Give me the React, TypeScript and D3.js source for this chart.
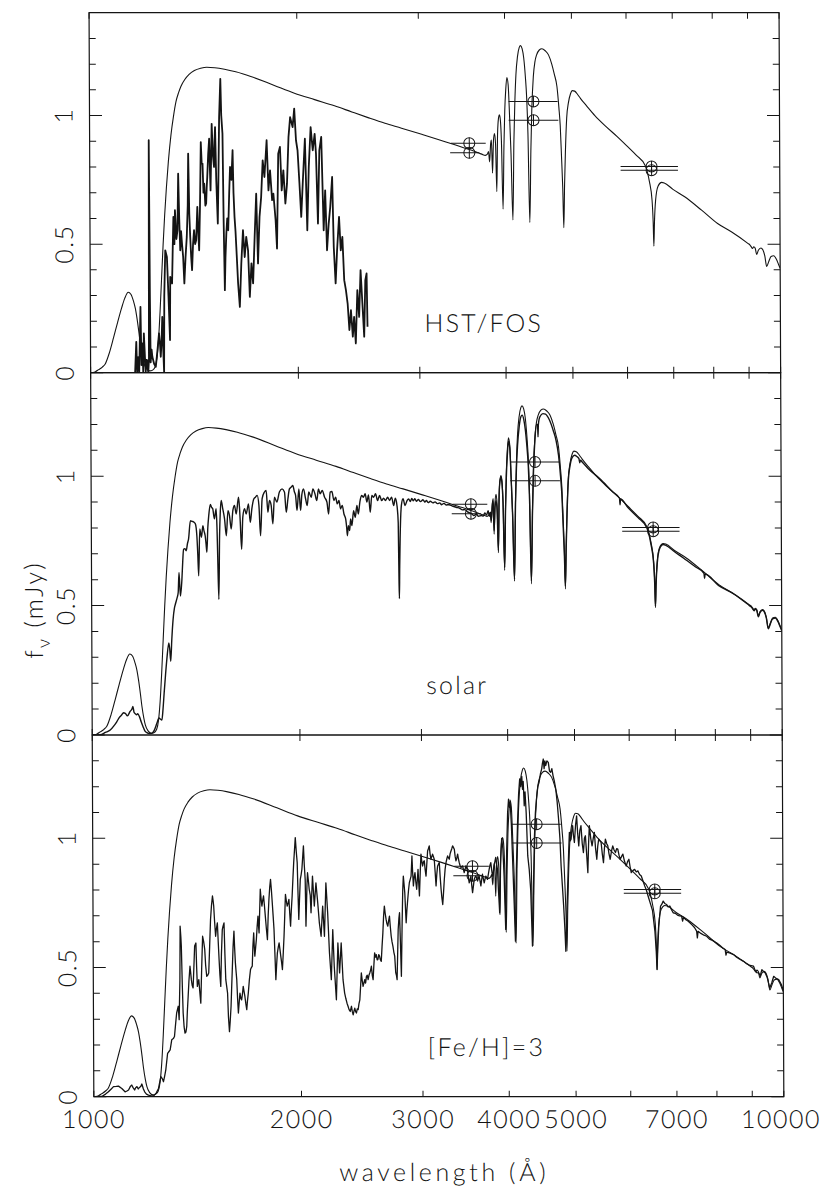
import React from "react";
import * as d3 from "d3";

type Pt = [number, number];

// Pure-hydrogen model atmosphere: [wavelength (Å), f_nu (mJy)]
const modelSpectrum: Pt[] = [
  [1000, 0], [1008, 0.001], [1016, 0.004], [1027, 0.012], [1040, 0.022], [1050, 0.034], [1065, 0.078],
  [1080, 0.136], [1095, 0.196], [1110, 0.252], [1122, 0.29], [1135, 0.313], [1145, 0.305], [1155, 0.278],
  [1162, 0.25], [1168, 0.213], [1175, 0.16], [1181, 0.11], [1188, 0.066], [1194, 0.039], [1205, 0.016],
  [1218, 0.007], [1230, 0.01], [1240, 0.022], [1248, 0.058], [1255, 0.13], [1262, 0.24], [1269, 0.37],
  [1276, 0.498], [1283, 0.61], [1291, 0.718], [1300, 0.82], [1312, 0.925], [1323, 0.995], [1335, 1.055],
  [1347, 1.09], [1357, 1.113], [1375, 1.14], [1395, 1.16], [1420, 1.175], [1450, 1.184], [1480, 1.188],
  [1520, 1.186], [1570, 1.18], [1630, 1.17], [1714, 1.152], [1850, 1.118], [1982, 1.087], [2120, 1.062],
  [2265, 1.038], [2400, 1.014], [2533, 0.992], [2680, 0.97], [2832, 0.951], [3029, 0.927], [3200, 0.907],
  [3347, 0.89], [3450, 0.879], [3540, 0.869], [3600, 0.862], [3653, 0.855], [3700, 0.85], [3745, 0.845],
  [3770, 0.85], [3785, 0.86], [3798, 0.82], [3812, 0.89], [3822, 0.905], [3835, 0.776], [3848, 0.9],
  [3862, 0.93], [3875, 0.89], [3889, 0.704], [3902, 0.93], [3915, 0.99], [3927, 1.003], [3940, 0.98],
  [3952, 0.9], [3970, 0.636], [3985, 0.88], [3998, 1.02], [4012, 1.1], [4028, 1.148], [4045, 1.12],
  [4062, 1.0], [4080, 0.85], [4102, 0.594], [4120, 0.9], [4135, 1.05], [4152, 1.16], [4175, 1.23],
  [4200, 1.265], [4218, 1.272], [4240, 1.26], [4262, 1.225], [4285, 1.15], [4302, 1.07], [4318, 0.93],
  [4340, 0.584], [4360, 0.87], [4375, 1.02], [4400, 1.152], [4425, 1.21], [4450, 1.236], [4490, 1.255],
  [4530, 1.26], [4580, 1.252], [4630, 1.236], [4680, 1.2], [4720, 1.16], [4760, 1.113], [4790, 1.03],
  [4810, 0.96], [4830, 0.83], [4846, 0.72], [4861, 0.564], [4876, 0.73], [4892, 0.86], [4915, 0.99],
  [4945, 1.05], [4980, 1.085], [5010, 1.097], [5050, 1.095], [5100, 1.082], [5150, 1.066], [5260, 1.036],
  [5400, 1.0], [5600, 0.958], [5816, 0.918], [6000, 0.883], [6200, 0.845], [6385, 0.805], [6470, 0.745],
  [6528, 0.67], [6550, 0.585], [6563, 0.492], [6578, 0.585], [6605, 0.67], [6660, 0.725], [6740, 0.74],
  [6800, 0.738], [7000, 0.713], [7270, 0.685], [7700, 0.632], [8120, 0.58], [8500, 0.548], [8980, 0.503],
  [9040, 0.497], [9080, 0.49], [9120, 0.483], [9160, 0.49], [9200, 0.485], [9250, 0.46], [9300, 0.476],
  [9380, 0.485], [9440, 0.478], [9500, 0.455], [9560, 0.413], [9620, 0.43], [9700, 0.452], [9790, 0.455],
  [9880, 0.44], [9950, 0.42], [10000, 0.406],
];

// HST/FOS ultraviolet spectrum
const fosSpectrum: Pt[] = [
  [1160, 0.0], [1165, 0.12], [1168, 0.0], [1172, 0.06], [1176, 0.0], [1182, 0.256], [1185, 0.03],
  [1189, 0.114], [1192, 0.0], [1195, 0.153], [1199, 0.06], [1202, 0.004], [1205, 0.05], [1208, 0.048],
  [1212, 0.0], [1215, 0.05], [1218, 0.904], [1220, 0.3], [1222, 0.04], [1226, 0.09], [1229, 0.062],
  [1236, 0.035], [1243, 0.023], [1250, 0.085], [1257, 0.153], [1261, 0.11], [1264, 0.062], [1268, 0.13],
  [1271, 0.217], [1275, 0.08], [1278, 0.0], [1280, 0.3], [1285, 0.476], [1292, 0.45], [1298, 0.3],
  [1304, 0.127], [1306, 0.373], [1314, 0.347], [1318, 0.5], [1321, 0.606], [1325, 0.5], [1328, 0.632],
  [1334, 0.52], [1339, 0.554], [1343, 0.774], [1347, 0.6], [1351, 0.476], [1355, 0.55], [1359, 0.502],
  [1364, 0.45], [1369, 0.347], [1375, 0.45], [1381, 0.528], [1386, 0.65], [1389, 0.852], [1393, 0.62],
  [1397, 0.528], [1401, 0.45], [1405, 0.399], [1410, 0.5], [1415, 0.554], [1420, 0.5], [1425, 0.515],
  [1431, 0.645], [1435, 0.55], [1439, 0.476], [1444, 0.65], [1449, 0.897], [1453, 0.813], [1457, 0.813],
  [1461, 0.7], [1465, 0.735], [1470, 0.65], [1474, 0.658], [1477, 0.72], [1480, 0.761], [1485, 0.85],
  [1490, 0.91], [1493, 0.8], [1496, 0.709], [1500, 0.85], [1503, 0.968], [1508, 0.85], [1514, 0.8],
  [1517, 0.9], [1520, 0.955], [1525, 0.75], [1532, 0.58], [1536, 0.75], [1541, 0.994], [1548, 1.143],
  [1552, 1.0], [1558, 0.929], [1562, 0.6], [1567, 0.321], [1571, 0.45], [1576, 0.541], [1581, 0.6],
  [1586, 0.554], [1592, 0.7], [1597, 0.8], [1604, 0.75], [1611, 0.865], [1615, 0.7], [1620, 0.606],
  [1625, 0.55], [1629, 0.489], [1638, 0.347], [1647, 0.256], [1656, 0.425], [1666, 0.554], [1675, 0.45],
  [1684, 0.528], [1694, 0.476], [1703, 0.295], [1713, 0.425], [1722, 0.347], [1732, 0.528], [1742, 0.696],
  [1751, 0.425], [1761, 0.606], [1771, 0.683], [1781, 0.826], [1791, 0.761], [1805, 0.904], [1815, 0.709],
  [1825, 0.787], [1837, 0.671], [1845, 0.696], [1858, 0.593], [1866, 0.483], [1876, 0.852], [1887, 0.878],
  [1897, 0.709], [1908, 0.787], [1920, 0.658], [1931, 0.735], [1942, 0.917], [1953, 0.994], [1969, 0.955],
  [1980, 1.027], [1991, 0.904], [2001, 0.865], [2013, 0.735], [2024, 0.606], [2035, 0.735], [2051, 0.91],
  [2065, 0.554], [2077, 0.8], [2091, 0.955], [2105, 0.865], [2119, 0.929], [2128, 0.852], [2140, 0.58],
  [2152, 0.865], [2166, 0.917], [2181, 0.554], [2193, 0.709], [2205, 0.476], [2218, 0.58], [2230, 0.645],
  [2245, 0.761], [2255, 0.489], [2268, 0.347], [2280, 0.476], [2296, 0.606], [2308, 0.476], [2321, 0.528],
  [2334, 0.36], [2347, 0.321], [2360, 0.269], [2373, 0.166], [2386, 0.243], [2400, 0.14], [2411, 0.217],
  [2424, 0.114], [2438, 0.321], [2452, 0.217], [2465, 0.399], [2479, 0.269], [2493, 0.14], [2504, 0.36],
  [2515, 0.386], [2521, 0.179],
];

// Synthetic spectrum with solar metal abundances
const solarSpectrum: Pt[] = [
  [1000, 0], [1027, 0.001], [1045, 0.01], [1062, 0.019], [1075, 0.035], [1086, 0.052], [1095, 0.068],
  [1104, 0.078], [1110, 0.086], [1117, 0.084], [1125, 0.074], [1135, 0.091], [1142, 0.1], [1146, 0.11],
  [1150, 0.088], [1155, 0.082], [1160, 0.078], [1164, 0.082], [1171, 0.071], [1178, 0.05], [1185, 0.032],
  [1192, 0.016], [1200, 0.009], [1210, 0.006], [1218, 0.006], [1230, 0.018], [1241, 0.045], [1250, 0.066],
  [1255, 0.062], [1262, 0.058], [1267, 0.1], [1272, 0.162], [1278, 0.23], [1284, 0.291], [1293, 0.356],
  [1297, 0.33], [1301, 0.285], [1306, 0.37], [1312, 0.447], [1318, 0.49], [1324, 0.511], [1330, 0.53],
  [1335, 0.55], [1339, 0.628], [1345, 0.537], [1352, 0.602], [1356, 0.67], [1360, 0.718], [1366, 0.72],
  [1372, 0.712], [1378, 0.74], [1383, 0.757], [1392, 0.828], [1398, 0.826], [1403, 0.825], [1409, 0.822],
  [1415, 0.816], [1422, 0.77], [1426, 0.7], [1430, 0.615], [1436, 0.796], [1440, 0.78], [1444, 0.764],
  [1451, 0.809], [1456, 0.79], [1462, 0.77], [1466, 0.74], [1470, 0.706], [1475, 0.8], [1480, 0.848],
  [1488, 0.891], [1494, 0.88], [1500, 0.874], [1508, 0.835], [1517, 0.874], [1521, 0.8], [1524, 0.693],
  [1529, 0.524], [1534, 0.77], [1538, 0.86], [1543, 0.906], [1551, 0.874], [1560, 0.835], [1569, 0.77],
  [1578, 0.867], [1586, 0.848], [1595, 0.796], [1604, 0.867], [1613, 0.887], [1622, 0.854], [1635, 0.919],
  [1640, 0.88], [1644, 0.822], [1651, 0.718], [1658, 0.841], [1668, 0.874], [1677, 0.854], [1690, 0.893],
  [1700, 0.822], [1709, 0.874], [1721, 0.913], [1730, 0.919], [1740, 0.926], [1750, 0.887], [1759, 0.77],
  [1769, 0.913], [1783, 0.939], [1793, 0.945], [1803, 0.861], [1813, 0.906], [1823, 0.887], [1833, 0.816],
  [1843, 0.919], [1858, 0.9], [1874, 0.939], [1891, 0.951], [1906, 0.939], [1917, 0.861], [1928, 0.913],
  [1938, 0.951], [1950, 0.958], [1960, 0.964], [1970, 0.94], [1978, 0.926], [1987, 0.867], [2000, 0.951],
  [2011, 0.867], [2020, 0.93], [2031, 0.951], [2045, 0.913], [2056, 0.887], [2067, 0.939], [2084, 0.919],
  [2096, 0.951], [2110, 0.932], [2123, 0.906], [2135, 0.951], [2147, 0.932], [2162, 0.945], [2179, 0.919],
  [2196, 0.9], [2208, 0.854], [2220, 0.939], [2233, 0.941], [2248, 0.906], [2261, 0.919], [2273, 0.893],
  [2286, 0.906], [2298, 0.874], [2311, 0.887], [2324, 0.854], [2337, 0.835], [2345, 0.8], [2350, 0.77],
  [2358, 0.809], [2368, 0.79], [2376, 0.835], [2386, 0.809], [2400, 0.867], [2413, 0.841], [2427, 0.887],
  [2438, 0.854], [2451, 0.9], [2465, 0.926], [2481, 0.919], [2495, 0.932], [2509, 0.9], [2523, 0.928],
  [2537, 0.861], [2551, 0.926], [2566, 0.919], [2583, 0.932], [2600, 0.906], [2618, 0.926], [2636, 0.906],
  [2653, 0.915], [2671, 0.906], [2689, 0.919], [2707, 0.906], [2725, 0.919], [2744, 0.887], [2759, 0.915],
  [2774, 0.887], [2785, 0.82], [2790, 0.6], [2793, 0.527], [2797, 0.65], [2802, 0.757], [2815, 0.887],
  [2831, 0.913], [2850, 0.887], [2869, 0.906], [2885, 0.912], [2900, 0.902], [2915, 0.914], [2930, 0.905],
  [2945, 0.913], [2960, 0.903], [2980, 0.91], [3000, 0.902], [3026, 0.909], [3045, 0.9], [3060, 0.906],
  [3080, 0.898], [3100, 0.903], [3128, 0.897], [3150, 0.901], [3175, 0.894], [3199, 0.897], [3220, 0.89],
  [3245, 0.895], [3271, 0.889], [3300, 0.89], [3345, 0.884], [3380, 0.88], [3421, 0.876], [3450, 0.87],
  [3478, 0.871], [3510, 0.862], [3536, 0.858], [3560, 0.855], [3585, 0.848], [3616, 0.854], [3640, 0.845],
  [3677, 0.848], [3700, 0.846], [3718, 0.858], [3740, 0.85], [3760, 0.867], [3775, 0.845], [3790, 0.861],
  [3800, 0.83], [3812, 0.88], [3824, 0.913], [3835, 0.79], [3848, 0.88], [3862, 0.905], [3875, 0.86],
  [3889, 0.712], [3902, 0.93], [3915, 0.985], [3927, 0.995], [3940, 0.97], [3952, 0.9], [3970, 0.647],
  [3985, 0.87], [3998, 1.0], [4012, 1.08], [4028, 1.135], [4045, 1.11], [4062, 0.99], [4080, 0.85],
  [4102, 0.602], [4120, 0.89], [4135, 1.03], [4152, 1.12], [4175, 1.19], [4200, 1.23], [4218, 1.236],
  [4240, 1.22], [4262, 1.18], [4285, 1.11], [4302, 1.04], [4318, 0.91], [4340, 0.595], [4360, 0.86],
  [4375, 1.0], [4400, 1.14], [4425, 1.2], [4440, 1.2], [4446, 1.152], [4452, 1.2], [4475, 1.23],
  [4520, 1.242], [4560, 1.24], [4620, 1.217], [4680, 1.175], [4720, 1.14], [4760, 1.08], [4790, 1.0],
  [4810, 0.93], [4830, 0.8], [4846, 0.7], [4861, 0.576], [4876, 0.72], [4892, 0.85], [4915, 0.98],
  [4945, 1.04], [4980, 1.072], [5023, 1.081], [5060, 1.076], [5095, 1.068], [5108, 1.052], [5120, 1.062],
  [5150, 1.055], [5252, 1.03], [5462, 0.99], [5700, 0.94], [5830, 0.915], [5840, 0.89], [5850, 0.912],
  [6000, 0.878], [6200, 0.84], [6385, 0.8], [6470, 0.738], [6528, 0.662], [6550, 0.58], [6563, 0.498],
  [6578, 0.58], [6605, 0.66], [6660, 0.72], [6740, 0.736], [6800, 0.733], [7000, 0.708], [7217, 0.683],
  [7500, 0.65], [7720, 0.625], [7735, 0.605], [7750, 0.622], [8100, 0.578], [8524, 0.545], [8980, 0.5],
  [9040, 0.494], [9080, 0.487], [9120, 0.48], [9160, 0.487], [9200, 0.482], [9250, 0.457], [9300, 0.473],
  [9380, 0.482], [9440, 0.475], [9500, 0.452], [9560, 0.41], [9620, 0.427], [9700, 0.449], [9790, 0.452],
  [9880, 0.437], [9950, 0.417], [10000, 0.403],
];

// Synthetic spectrum with [Fe/H] = 3
const metalSpectrum: Pt[] = [
  [1000, 0], [1027, 0.001], [1040, 0.01], [1050, 0.019], [1060, 0.03], [1068, 0.039], [1078, 0.04],
  [1086, 0.041], [1098, 0.032], [1110, 0.019], [1117, 0.022], [1123, 0.026], [1130, 0.04], [1135, 0.045],
  [1140, 0.035], [1146, 0.026], [1150, 0.035], [1155, 0.039], [1160, 0.03], [1165, 0.036], [1170, 0.04],
  [1174, 0.049], [1180, 0.03], [1185, 0.019], [1192, 0.01], [1200, 0.006], [1210, 0.003], [1221, 0.003],
  [1232, 0.015], [1241, 0.032], [1251, 0.078], [1257, 0.07], [1262, 0.058], [1267, 0.08], [1272, 0.104],
  [1280, 0.168], [1286, 0.175], [1291, 0.181], [1298, 0.22], [1305, 0.225], [1310, 0.233], [1315, 0.28],
  [1320, 0.324], [1327, 0.35], [1331, 0.298], [1335, 0.45], [1337, 0.66], [1340, 0.62], [1342, 0.583],
  [1346, 0.42], [1349, 0.324], [1353, 0.27], [1357, 0.246], [1361, 0.25], [1365, 0.272], [1368, 0.33],
  [1372, 0.388], [1376, 0.45], [1381, 0.505], [1384, 0.48], [1387, 0.453], [1391, 0.43], [1395, 0.421],
  [1399, 0.5], [1403, 0.583], [1409, 0.595], [1412, 0.5], [1415, 0.427], [1418, 0.44], [1422, 0.453],
  [1426, 0.41], [1431, 0.362], [1436, 0.5], [1441, 0.621], [1446, 0.6], [1451, 0.57], [1455, 0.51],
  [1460, 0.466], [1465, 0.47], [1470, 0.479], [1475, 0.58], [1480, 0.686], [1485, 0.74], [1490, 0.777],
  [1493, 0.76], [1496, 0.738], [1500, 0.68], [1505, 0.621], [1509, 0.65], [1514, 0.673], [1518, 0.6],
  [1522, 0.531], [1526, 0.47], [1530, 0.427], [1534, 0.55], [1539, 0.647], [1543, 0.66], [1548, 0.673],
  [1552, 0.55], [1556, 0.453], [1560, 0.43], [1565, 0.401], [1569, 0.31], [1574, 0.252], [1578, 0.29],
  [1583, 0.35], [1587, 0.43], [1591, 0.505], [1595, 0.58], [1600, 0.641], [1603, 0.58], [1607, 0.518],
  [1611, 0.48], [1614, 0.453], [1618, 0.38], [1622, 0.324], [1626, 0.36], [1631, 0.401], [1636, 0.38],
  [1640, 0.375], [1645, 0.4], [1649, 0.427], [1653, 0.41], [1658, 0.388], [1663, 0.36], [1668, 0.337],
  [1672, 0.37], [1677, 0.401], [1683, 0.45], [1690, 0.492], [1695, 0.5], [1700, 0.505], [1704, 0.58],
  [1709, 0.634], [1712, 0.58], [1715, 0.544], [1720, 0.58], [1724, 0.608], [1729, 0.66], [1734, 0.699],
  [1737, 0.66], [1740, 0.634], [1744, 0.72], [1748, 0.803], [1752, 0.77], [1757, 0.738], [1762, 0.76],
  [1767, 0.777], [1772, 0.74], [1777, 0.699], [1783, 0.65], [1789, 0.608], [1794, 0.7], [1799, 0.764],
  [1804, 0.81], [1809, 0.841], [1814, 0.8], [1819, 0.751], [1824, 0.7], [1829, 0.647], [1834, 0.55],
  [1839, 0.453], [1844, 0.51], [1849, 0.557], [1855, 0.58], [1860, 0.595], [1865, 0.57], [1870, 0.544],
  [1875, 0.52], [1880, 0.492], [1886, 0.56], [1891, 0.621], [1896, 0.7], [1901, 0.783], [1906, 0.76],
  [1912, 0.738], [1918, 0.75], [1923, 0.764], [1928, 0.71], [1933, 0.66], [1938, 0.72], [1944, 0.777],
  [1950, 0.85], [1955, 0.906], [1960, 0.95], [1966, 1.003], [1972, 0.95], [1978, 0.906], [1982, 0.8],
  [1987, 0.686], [1992, 0.76], [1998, 0.841], [2004, 0.86], [2009, 0.88], [2015, 0.93], [2020, 0.971],
  [2025, 0.9], [2031, 0.841], [2035, 0.66], [2043, 0.82], [2047, 0.867], [2054, 0.828], [2058, 0.803],
  [2065, 0.78], [2070, 0.712], [2081, 0.854], [2093, 0.738], [2105, 0.828], [2117, 0.751], [2128, 0.673],
  [2140, 0.621], [2152, 0.738], [2164, 0.621], [2176, 0.828], [2188, 0.712], [2200, 0.557], [2213, 0.453],
  [2225, 0.647], [2235, 0.505], [2250, 0.375], [2263, 0.595], [2275, 0.479], [2288, 0.595], [2301, 0.453],
  [2313, 0.401], [2322, 0.38], [2331, 0.362], [2339, 0.35], [2347, 0.337], [2356, 0.33], [2366, 0.35],
  [2372, 0.33], [2379, 0.317], [2385, 0.33], [2392, 0.343], [2398, 0.33], [2405, 0.324], [2412, 0.34],
  [2419, 0.337], [2426, 0.36], [2433, 0.375], [2440, 0.43], [2446, 0.479], [2453, 0.45], [2460, 0.427],
  [2467, 0.44], [2474, 0.453], [2481, 0.44], [2488, 0.466], [2495, 0.47], [2502, 0.453], [2509, 0.47],
  [2516, 0.479], [2523, 0.49], [2530, 0.505], [2537, 0.47], [2544, 0.453], [2551, 0.51], [2558, 0.557],
  [2565, 0.54], [2572, 0.55], [2579, 0.53], [2586, 0.531], [2593, 0.55], [2600, 0.544], [2607, 0.53],
  [2615, 0.524], [2622, 0.58], [2630, 0.634], [2637, 0.7], [2644, 0.738], [2651, 0.71], [2659, 0.686],
  [2666, 0.67], [2674, 0.66], [2681, 0.68], [2689, 0.699], [2696, 0.66], [2704, 0.621], [2711, 0.6],
  [2719, 0.583], [2727, 0.56], [2735, 0.544], [2744, 0.479], [2750, 0.47], [2756, 0.453], [2762, 0.55],
  [2768, 0.647], [2775, 0.69], [2781, 0.712], [2788, 0.6], [2796, 0.466], [2805, 0.673], [2812, 0.8],
  [2818, 0.854], [2825, 0.82], [2831, 0.79], [2837, 0.73], [2843, 0.673], [2850, 0.72], [2859, 0.764],
  [2867, 0.8], [2875, 0.828], [2883, 0.84], [2892, 0.854], [2901, 0.932], [2907, 0.87], [2914, 0.816],
  [2922, 0.85], [2930, 0.867], [2938, 0.83], [2946, 0.803], [2953, 0.84], [2960, 0.88], [2966, 0.83],
  [2973, 0.777], [2982, 0.87], [2990, 0.939], [2998, 0.91], [3006, 0.893], [3015, 0.91], [3023, 0.913],
  [3031, 0.88], [3040, 0.854], [3048, 0.9], [3057, 0.951], [3065, 0.96], [3074, 0.971], [3082, 0.94],
  [3091, 0.919], [3100, 0.93], [3108, 0.939], [3116, 0.93], [3125, 0.919], [3134, 0.87], [3143, 0.816],
  [3151, 0.86], [3160, 0.893], [3169, 0.9], [3178, 0.906], [3187, 0.85], [3196, 0.803], [3204, 0.77],
  [3213, 0.744], [3222, 0.79], [3231, 0.841], [3240, 0.88], [3250, 0.906], [3259, 0.92], [3268, 0.932],
  [3277, 0.925], [3286, 0.919], [3295, 0.94], [3305, 0.951], [3314, 0.96], [3323, 0.971], [3332, 0.965],
  [3342, 0.958], [3351, 0.93], [3360, 0.913], [3370, 0.925], [3379, 0.939], [3388, 0.92], [3397, 0.906],
  [3406, 0.895], [3416, 0.887], [3425, 0.89], [3435, 0.893], [3444, 0.88], [3453, 0.867], [3463, 0.88],
  [3473, 0.893], [3482, 0.885], [3492, 0.874], [3501, 0.85], [3511, 0.828], [3521, 0.84], [3531, 0.854],
  [3540, 0.82], [3550, 0.79], [3560, 0.815], [3570, 0.841], [3580, 0.85], [3590, 0.854], [3600, 0.845],
  [3610, 0.835], [3620, 0.845], [3629, 0.854], [3640, 0.835], [3650, 0.816], [3660, 0.84], [3670, 0.861],
  [3680, 0.845], [3691, 0.828], [3700, 0.84], [3711, 0.854], [3721, 0.848], [3732, 0.841], [3742, 0.86],
  [3753, 0.88], [3763, 0.895], [3774, 0.906], [3784, 0.88], [3795, 0.854], [3805, 0.87], [3816, 0.893],
  [3826, 0.91], [3837, 0.926], [3848, 0.9], [3859, 0.88], [3870, 0.8], [3885, 0.712], [3898, 0.9],
  [3915, 1.0], [3930, 0.96], [3945, 0.85], [3963, 0.647], [3980, 0.95], [3995, 1.1], [4008, 1.152],
  [4020, 1.12], [4030, 1.139], [4045, 1.05], [4062, 0.893], [4078, 0.75], [4093, 0.602], [4110, 0.88],
  [4129, 1.061], [4145, 1.17], [4161, 1.23], [4175, 1.2], [4190, 1.24], [4200, 1.19], [4210, 1.22],
  [4223, 1.126], [4235, 1.18], [4250, 1.1], [4270, 0.932], [4290, 0.88], [4310, 0.8], [4332, 0.583],
  [4350, 0.8], [4366, 0.997], [4383, 1.1], [4400, 1.152], [4420, 1.2], [4439, 1.217], [4460, 1.25],
  [4479, 1.269], [4490, 1.29], [4503, 1.307], [4515, 1.27], [4527, 1.3], [4539, 1.282], [4558, 1.3],
  [4579, 1.294], [4597, 1.26], [4615, 1.256], [4633, 1.27], [4651, 1.243], [4672, 1.22], [4693, 1.191],
  [4714, 1.14], [4735, 1.074], [4755, 1.0], [4772, 0.893], [4790, 0.82], [4810, 0.738], [4828, 0.65],
  [4842, 0.563], [4860, 0.7], [4880, 0.841], [4895, 0.95], [4908, 1.023], [4920, 0.99], [4935, 0.997],
  [4948, 1.03], [4962, 1.049], [4975, 1.01], [4990, 0.984], [5010, 1.05], [5029, 1.087], [5045, 1.02],
  [5063, 0.971], [5082, 1.03], [5102, 1.049], [5122, 0.98], [5142, 0.945], [5160, 1.0], [5177, 1.01],
  [5197, 0.94], [5217, 0.867], [5232, 0.98], [5246, 1.049], [5270, 1.0], [5293, 0.971], [5314, 1.0],
  [5334, 1.023], [5355, 0.96], [5376, 0.919], [5394, 0.97], [5412, 0.997], [5434, 0.99], [5455, 0.984],
  [5476, 0.94], [5497, 0.906], [5515, 0.96], [5534, 0.997], [5556, 0.98], [5578, 0.971], [5600, 0.94],
  [5622, 0.919], [5646, 0.95], [5671, 0.971], [5696, 0.955], [5722, 0.945], [5745, 0.96], [5767, 0.958],
  [5790, 0.935], [5813, 0.919], [5840, 0.93], [5865, 0.939], [5898, 0.91], [5930, 0.893], [5957, 0.91],
  [5984, 0.919], [6007, 0.89], [6030, 0.867], [6064, 0.875], [6098, 0.88], [6132, 0.87], [6166, 0.874],
  [6200, 0.86], [6235, 0.854], [6270, 0.835], [6305, 0.816], [6340, 0.8], [6376, 0.777], [6420, 0.75],
  [6470, 0.72], [6520, 0.64], [6545, 0.57], [6563, 0.492], [6580, 0.57], [6605, 0.66], [6646, 0.738],
  [6675, 0.745], [6705, 0.757], [6740, 0.748], [6779, 0.744], [6815, 0.735], [6855, 0.738], [6890, 0.725],
  [6931, 0.712], [6980, 0.71], [7030, 0.703], [7080, 0.7], [7128, 0.699], [7152, 0.68], [7175, 0.695],
  [7230, 0.685], [7280, 0.68], [7328, 0.673], [7380, 0.665], [7440, 0.655], [7494, 0.641], [7511, 0.615],
  [7530, 0.64], [7600, 0.632], [7680, 0.625], [7748, 0.621], [7820, 0.61], [7900, 0.605], [8013, 0.595],
  [8100, 0.585], [8180, 0.575], [8239, 0.57], [8262, 0.548], [8284, 0.56], [8380, 0.556], [8472, 0.55],
  [8560, 0.54], [8650, 0.532], [8759, 0.524], [8850, 0.515], [8950, 0.508], [9056, 0.505], [9100, 0.49],
  [9150, 0.48], [9209, 0.479], [9260, 0.468], [9311, 0.492], [9360, 0.485], [9417, 0.479], [9480, 0.46],
  [9554, 0.421], [9620, 0.44], [9685, 0.466], [9760, 0.458], [9847, 0.453], [9930, 0.435], [9991, 0.414],
  [10000, 0.412],
];

// Broad-band photometry: effective wavelength, flux and band extent
const photWave = [3550, 3550, 4400, 4400, 6520, 6520];
const photFlux = [0.892, 0.855, 1.055, 0.982, 0.802, 0.787];
const photBandLo = [3340, 3330, 4050, 4050, 5880, 5880];
const photBandHi = [3750, 3670, 4770, 4780, 7120, 7120];

const xTicks = [1000, 2000, 3000, 4000, 5000, 6000, 7000, 8000, 9000, 10000];
const xTickLabels = [1000, 2000, 3000, 4000, 5000, 7000, 10000];
const yMinorTicks = [0.1, 0.2, 0.3, 0.4, 0.6, 0.7, 0.8, 0.9, 1.1, 1.2, 1.3];
const yMajorTicks = [0, 0.5, 1];
const yMax = 1.4;
const panelLabels = ["HST/FOS", "solar", "[Fe/H]=3"];
const panelLabelPos: Pt = [3050, 0.157];

export default function App() {
  const width = 823;
  const height = 1191;
  const plotLeft = 89;
  const plotRight = 779;
  const panelTops = [12.7, 372.7, 735];
  const panelHeights = [360, 362.3, 361.7];
  const spectra = [fosSpectrum, solarSpectrum, metalSpectrum];
  const dataWidths = [1.8, 1.4, 1.3];
  const ink = "#141414";
  const fontFamily = "Lato, 'Open Sans', 'DejaVu Sans', sans-serif";
  const textStyle = { fontFamily, fontWeight: 300, fontSize: 25, letterSpacing: 2.2, fill: ink } as const;
  const tickStyle = { ...textStyle, letterSpacing: 1.5 };

  const x = d3.scaleLog().domain([1000, 10000]).range([plotLeft, plotRight]);

  const panels = panelTops.map((top, i) => {
    const h = panelHeights[i];
    const y = d3.scaleLinear().domain([0, yMax]).range([top + h, top]);
    const smooth = d3.line<Pt>().x((d) => x(d[0])).y((d) => y(d[1])).curve(d3.curveMonotoneX);
    const jagged = d3
      .line<Pt>()
      .x((d) => x(d[0]))
      .y((d) => y(d[1]))
      .curve(i === 1 ? d3.curveMonotoneX : d3.curveLinear);
    const bottom = top + h;
    return (
      <g key={i}>
        <defs>
          <clipPath id={`panel-clip-${i}`}>
            <rect x={plotLeft} y={top} width={plotRight - plotLeft} height={h} />
          </clipPath>
        </defs>
        <g clipPath={`url(#panel-clip-${i})`} fill="none" stroke={ink} strokeLinejoin="round">
          <path d={smooth(modelSpectrum) || ""} strokeWidth={1.1} />
          <path d={jagged(spectra[i]) || ""} strokeWidth={dataWidths[i]} />
        </g>
        {/* photometric points */}
        <g fill="none" stroke={ink} strokeWidth={1}>
          {photWave.map((w, j) => {
            const cx = x(w);
            const cy = y(photFlux[j]);
            const r = 5.5;
            return (
              <g key={j}>
                <line x1={x(photBandLo[j])} x2={x(photBandHi[j])} y1={cy} y2={cy} />
                <circle cx={cx} cy={cy} r={r} />
                <line x1={cx} x2={cx} y1={cy - r} y2={cy + r} />
              </g>
            );
          })}
        </g>
        {/* frame */}
        <rect x={plotLeft} y={top} width={plotRight - plotLeft} height={h} fill="none" stroke={ink} strokeWidth={1.2} />
        <g stroke={ink} strokeWidth={1}>
          {xTicks.map((v) => (
            <g key={v}>
              <line x1={x(v)} x2={x(v)} y1={bottom} y2={bottom - 6} />
              <line x1={x(v)} x2={x(v)} y1={top} y2={top + 6} />
            </g>
          ))}
          {yMinorTicks.map((v) => (
            <g key={v}>
              <line x1={plotLeft} x2={plotLeft + 6.5} y1={y(v)} y2={y(v)} />
              <line x1={plotRight} x2={plotRight - 6.5} y1={y(v)} y2={y(v)} />
            </g>
          ))}
          {yMajorTicks.map((v) => (
            <g key={v}>
              <line x1={plotLeft} x2={plotLeft + 12.5} y1={y(v)} y2={y(v)} />
              <line x1={plotRight} x2={plotRight - 12.5} y1={y(v)} y2={y(v)} />
            </g>
          ))}
        </g>
        {yMajorTicks.map((v) => (
          <text key={v} transform={`translate(72, ${y(v)}) rotate(-90)`} textAnchor="middle" style={tickStyle}>
            {String(v)}
          </text>
        ))}
        <text x={x(panelLabelPos[0])} y={y(panelLabelPos[1])} style={textStyle}>
          {panelLabels[i]}
        </text>
      </g>
    );
  });

  const lastBottom = panelTops[2] + panelHeights[2];

  return (
    <div style={{ position: "absolute", left: 0, top: 0 }}>
      <svg width={width} height={height} viewBox={`0 0 ${width} ${height}`} style={{ display: "block" }}>
        <rect width={width} height={height} fill="#fff" />
        <g transform="matrix(1 0 0.0044 1 0 0)">
          {panels}
          {xTickLabels.map((v) => (
            <text
              key={v}
              x={x(v) - (v === 10000 ? 3 : 0)}
              y={lastBottom + 31.5}
              textAnchor="middle"
              style={tickStyle}
            >
              {String(v)}
            </text>
          ))}
          <text x={439} y={1181} textAnchor="middle" style={{ ...textStyle, letterSpacing: 3.6 }}>
            wavelength (Å)
          </text>
          <text transform="translate(40, 610) rotate(-90)" textAnchor="middle" style={textStyle}>
            f<tspan dy={7} fontSize={18}>ν</tspan>
            <tspan dy={-7}> (mJy)</tspan>
          </text>
        </g>
      </svg>
    </div>
  );
}
